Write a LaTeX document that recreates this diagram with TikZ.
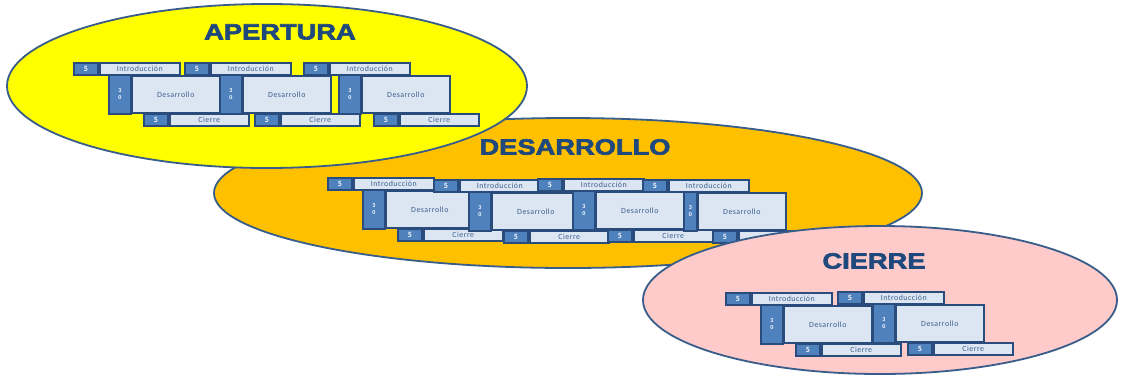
\documentclass[tikz,border=0pt]{standalone}
\usepackage{fontspec}
\usetikzlibrary{shapes.geometric}
\newfontfamily\titlefont[FakeStretch=1.24,BoldFeatures={FakeBold=3}]{Liberation Sans}
\newfontfamily\boxfont[LetterSpace=6]{Carlito}
\definecolor{ovalline}{HTML}{385D8A}
\definecolor{yellowfill}{HTML}{FFFF00}
\definecolor{orangefill}{HTML}{FFC000}
\definecolor{pinkfill}{HTML}{FFCACA}
\definecolor{boxline}{HTML}{2A4C7C}
\definecolor{sfill}{HTML}{4F81BD}
\definecolor{lfill}{HTML}{DCE6F2}
\definecolor{lightText}{HTML}{3C5E8E}
\definecolor{titleblue}{HTML}{1F497D}
\tikzset{
  oval/.style={ellipse, draw=ovalline, line width=1.8pt, inner sep=0pt},
  titletext/.style={text=titleblue, font=\titlefont\bfseries\fontsize{22}{22}\selectfont, inner sep=0pt},
  basebox/.style={draw=boxline, line width=1.6pt, inner sep=0pt, anchor=north west},
  sbox/.style={basebox, fill=sfill, text=white, minimum width=24pt, minimum height=12pt,
    font=\boxfont\bfseries\fontsize{8}{8}\selectfont},
  lbox/.style={basebox, fill=lfill, text=lightText, minimum height=12pt,
    font=\boxfont\fontsize{7.9}{7.9}\selectfont},
  sidebox/.style={basebox, fill=sfill, text=white, minimum height=39pt, align=center,
    font=\boxfont\bfseries\fontsize{6}{7}\selectfont},
  devbox/.style={basebox, fill=lfill, text=lightText, minimum width=88pt, minimum height=37pt,
    font=\boxfont\fontsize{7.9}{7.9}\selectfont},
}
% #1 prefix, #2 x0, #3 y0, #4 sidebar x offset, #5 sidebar width
\newcommand{\lessonset}[5]{%
  \node[sbox] (#1is) at (#2,#3) {5};
  \node[lbox, minimum width=80pt] (#1ib) at ({#2+26},#3) {Introducción};
  \node[sidebox, minimum width=#5pt] (#1sb) at ({#2+#4},{#3+12}) {3\\0};
  \node[devbox] (#1db) at ({#2+#4+#5+1},{#3+13}) {Desarrollo};
  \node[sbox] (#1cs) at ({#2+70},{#3+51}) {5};
  \node[lbox, minimum width=79pt] (#1cb) at ({#2+96},{#3+51}) {Cierre};
}
\begin{document}
\begin{tikzpicture}[x=1pt,y=-1pt]
\useasboundingbox (0,0) rectangle (1122,376);
\fill[white] (0,0) rectangle (1122,376);
% DESARROLLO
\node[oval, fill=orangefill, minimum width=708pt, minimum height=150pt] (desE) at (568,193) {};
\node[titletext] (desT) at (575,147) {DESARROLLO};
\lessonset{dA}{327}{177}{35}{22}
\lessonset{dB}{433}{179}{35}{22}
\lessonset{dC}{537}{178}{35}{22}
\lessonset{dD}{642}{179}{41}{13}
% APERTURA
\node[oval, fill=yellowfill, minimum width=520pt, minimum height=164pt] (apE) at (267,86) {};
\node[titletext] (apT) at (280,32) {APERTURA};
\lessonset{aA}{73}{62}{35}{22}
\lessonset{aB}{184}{62}{35}{22}
\lessonset{aC}{303}{62}{35}{22}
% CIERRE
\node[oval, fill=pinkfill, minimum width=474pt, minimum height=148pt] (ciE) at (880,300) {};
\node[titletext] (ciT) at (874,261) {CIERRE};
\lessonset{cA}{725}{292}{35}{22}
\lessonset{cB}{837}{291}{35}{22}
\end{tikzpicture}
\end{document}
